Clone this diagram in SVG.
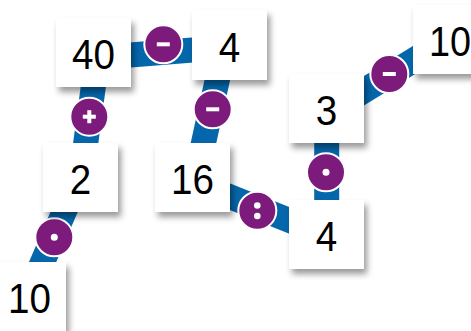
<svg xmlns="http://www.w3.org/2000/svg" width="471" height="331" viewBox="0 0 471 331">
<defs>
<filter id="sh" x="-20%" y="-20%" width="150%" height="150%">
<feDropShadow dx="3" dy="5" stdDeviation="3" flood-color="#000" flood-opacity="0.4"/>
</filter>
<style>
.band{stroke:#0567ab;stroke-width:25;fill:none}
.op{fill:#7d1b7c;stroke:#fff;stroke-width:2}
.sym{fill:#fff}
.box{fill:#fff;filter:url(#sh)}
.num{font-family:"Liberation Sans",Arial,sans-serif;font-size:42px;fill:#000;text-anchor:middle}
</style>
</defs>
<rect width="471" height="331" fill="#fff"/>
<g id="connectors">
<line class="band" x1="98" y1="52" x2="81" y2="178"/>
<line class="band" x1="93" y1="58" x2="230" y2="47"/>
<line class="band" x1="225" y1="45" x2="196" y2="177"/>
<line class="band" x1="80" y1="175" x2="28" y2="296"/>
<line class="band" x1="193" y1="182" x2="326" y2="235"/>
<line class="band" x1="326.7" y1="108" x2="326.7" y2="235"/>
<line class="band" x1="326" y1="114" x2="450" y2="38"/>
<g id="op-plus">
<circle class="op" cx="89.3" cy="116.7" r="19"/>
<rect class="sym" x="82.8" y="114.7" width="13" height="4"/>
<rect class="sym" x="87.3" y="110.2" width="4" height="13"/>
</g>
<g id="op-minus1">
<circle class="op" cx="163.3" cy="44.3" r="19"/>
<rect class="sym" x="156.8" y="42.3" width="13" height="4"/>
</g>
<g id="op-minus2">
<circle class="op" cx="212.7" cy="109.3" r="19"/>
<rect class="sym" x="206.2" y="107.3" width="13" height="4"/>
</g>
<g id="op-dot1">
<circle class="op" cx="54.3" cy="237.3" r="19"/>
<circle class="sym" cx="54.3" cy="237.3" r="3.5"/>
</g>
<g id="op-colon">
<circle class="op" cx="257.3" cy="210.7" r="19"/>
<circle class="sym" cx="257.3" cy="205.5" r="3.3"/>
<circle class="sym" cx="257.3" cy="216" r="3.3"/>
</g>
<g id="op-dot2">
<circle class="op" cx="326" cy="172.3" r="19"/>
<circle class="sym" cx="326" cy="172.3" r="3.5"/>
</g>
<g id="op-minus3">
<circle class="op" cx="389.3" cy="74" r="19"/>
<rect class="sym" x="382.8" y="72" width="13" height="4"/>
</g>
</g>
<g id="n40"><rect class="box" x="56" y="18" width="75" height="69"/><text class="num" transform="translate(93.5,69) scale(0.92,1)">40</text></g>
<g id="n4a"><rect class="box" x="192" y="10" width="75" height="70"/><text class="num" transform="translate(229.5,61.5) scale(0.92,1)">4</text></g>
<g id="n2"><rect class="box" x="43" y="143" width="75" height="69"/><text class="num" transform="translate(80.5,193.5) scale(0.92,1)">2</text></g>
<g id="n16"><rect class="box" x="155" y="143" width="75" height="69"/><text class="num" transform="translate(192.5,193.5) scale(0.92,1)">16</text></g>
<g id="n10a"><rect class="box" x="-9" y="262" width="75" height="69"/><text class="num" transform="translate(29.5,312.5) scale(0.92,1)">10</text></g>
<g id="n3"><rect class="box" x="289" y="74" width="75" height="69"/><text class="num" transform="translate(326.5,125) scale(0.92,1)">3</text></g>
<g id="n4b"><rect class="box" x="289" y="200" width="75" height="69"/><text class="num" transform="translate(326.5,250.5) scale(0.92,1)">4</text></g>
<g id="n10b"><rect class="box" x="413" y="5" width="75" height="69"/><text class="num" transform="translate(450,55.5) scale(0.9,1)">10</text></g>
</svg>
